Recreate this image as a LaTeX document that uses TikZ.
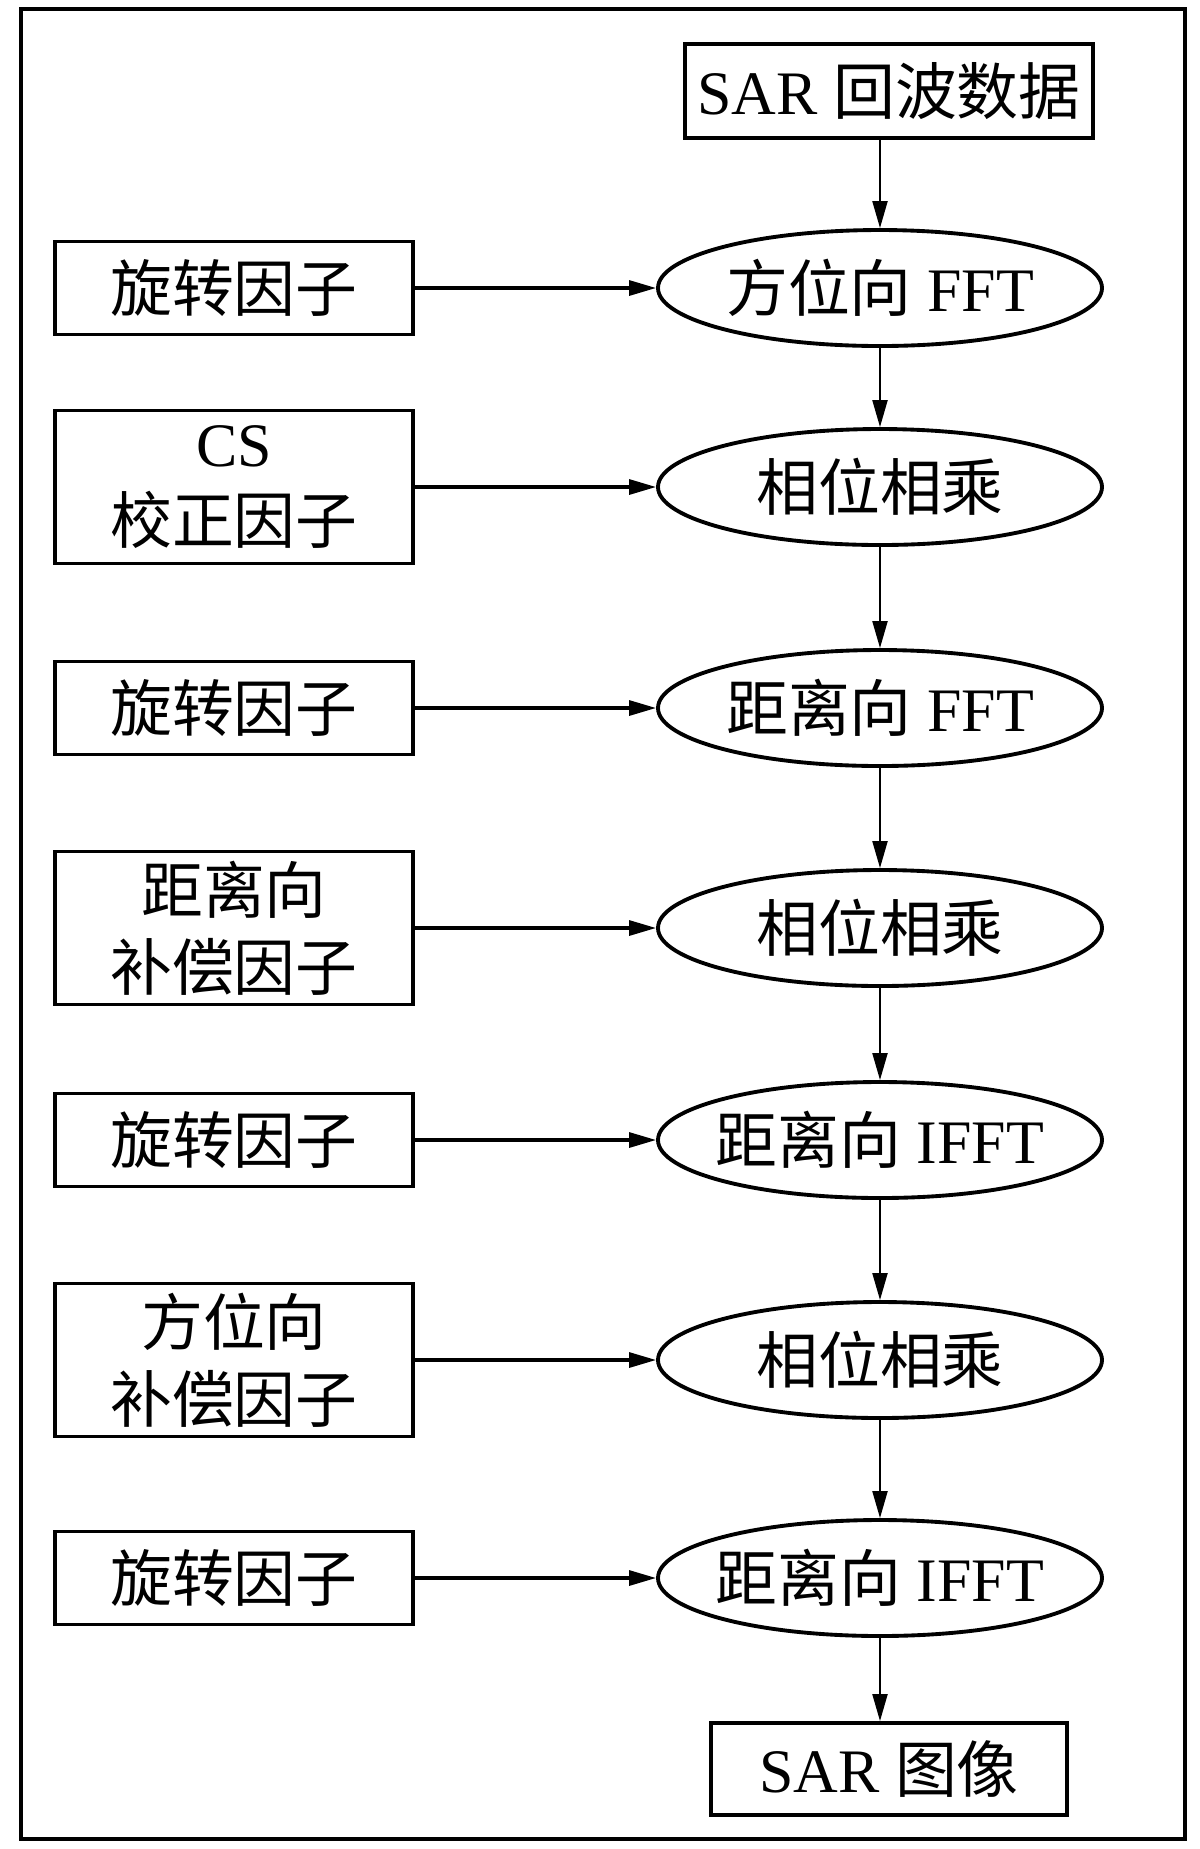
\documentclass[tikz,border=0pt]{standalone}
\usepackage{fontspec}
\setmainfont{Liberation Serif}
\newfontfamily\cjk{Noto Sans CJK SC}
\usetikzlibrary{shapes.geometric,arrows.meta}
\tikzset{
	factor/.style={draw, line width=1.1pt, inner sep=0pt, minimum width=3.58cm, minimum height=0.93cm, align=center},
	proc/.style={draw, ellipse, line width=1.1pt, inner xsep=-0.2cm, inner ysep=0pt, minimum width=4.44cm, minimum height=1.16cm},
	harr/.style={line width=0.9pt, -{Triangle[length=0.27cm, width=0.15cm]}},
	varr/.style={line width=0.6pt, -{Triangle[length=0.27cm, width=0.15cm]}}
}

\begin{document}
\begin{tikzpicture}[every node/.style={font=\fontsize{17.6}{21.9}\selectfont}]
		%%%%% START %%%%%
		\useasboundingbox (0, 0) rectangle (12, -18.49);
		\draw[line width=1pt] (0.21, -0.09) rectangle (11.85, -18.39);
		
		\node[factor, minimum width=4.08cm, minimum height=0.94cm] (echo) at (8.89, -0.91) {SAR {\cjk 回波数据}};
		
		\node[proc] (e1) at (8.80, -2.88) {{\cjk 方位向} FFT};
		\node[proc] (e2) at (8.80, -4.87) {\cjk 相位相乘};
		\node[proc] (e3) at (8.80, -7.08) {{\cjk 距离向} FFT};
		\node[proc] (e4) at (8.80, -9.28) {\cjk 相位相乘};
		\node[proc] (e5) at (8.80, -11.40) {{\cjk 距离向} IFFT};
		\node[proc] (e6) at (8.80, -13.60) {\cjk 相位相乘};
		\node[proc] (e7) at (8.80, -15.78) {{\cjk 距离向} IFFT};
		
		\node[factor] (f1) at (2.34, -2.88) {\cjk 旋转因子};
		\node[factor, minimum height=1.53cm] (f2) at (2.34, -4.87) {CS\\{\cjk 校正因子}};
		\node[factor] (f3) at (2.34, -7.08) {\cjk 旋转因子};
		\node[factor, minimum height=1.53cm] (f4) at (2.34, -9.28) {\cjk 距离向\\\cjk 补偿因子};
		\node[factor] (f5) at (2.34, -11.40) {\cjk 旋转因子};
		\node[factor, minimum height=1.53cm] (f6) at (2.34, -13.60) {\cjk 方位向\\\cjk 补偿因子};
		\node[factor] (f7) at (2.34, -15.78) {\cjk 旋转因子};
		
		\node[factor, minimum width=3.56cm, minimum height=0.92cm] (img) at (8.89, -17.69) {SAR {\cjk 图像}};
		
		\draw[varr] (echo.south -| e1) -- (e1.north);
		\draw[varr] (e1) -- (e2);
		\draw[varr] (e2) -- (e3);
		\draw[varr] (e3) -- (e4);
		\draw[varr] (e4) -- (e5);
		\draw[varr] (e5) -- (e6);
		\draw[varr] (e6) -- (e7);
		\draw[varr] (e7.south) -- (e7.south |- img.north);
		
		\draw[harr] (f1) -- (e1);
		\draw[harr] (f2) -- (e2);
		\draw[harr] (f3) -- (e3);
		\draw[harr] (f4) -- (e4);
		\draw[harr] (f5) -- (e5);
		\draw[harr] (f6) -- (e6);
		\draw[harr] (f7) -- (e7);
		%%%%% END %%%%%
\end{tikzpicture}
\end{document}
